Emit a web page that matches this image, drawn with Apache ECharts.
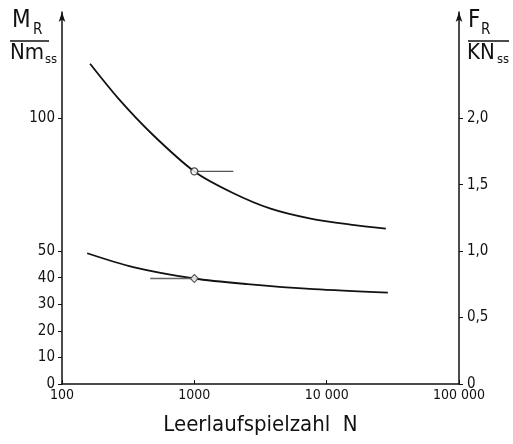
<!DOCTYPE html>
<html><head><meta charset="utf-8">
<script src="https://cdn.jsdelivr.net/npm/echarts@6/dist/echarts.min.js"></script>
<style>html,body{margin:0;padding:0;background:#fff}#c{width:513px;height:444px}</style>
</head><body><div id="c"></div>
<script>
// Upper curve: F_R (right axis, kN_ss) vs N
const nUpper = [163, 266, 481, 1000, 1940, 3770, 7570, 15100, 28000];
const fUpper = [2.41, 2.15, 1.88, 1.60, 1.44, 1.32, 1.245, 1.20, 1.17];
// Lower curve: M_R (left axis, Nm_ss) vs N
const nLower = [155, 345, 1000, 2520, 7980, 29000];
const mLower = [49.2, 44.0, 39.7, 37.6, 35.7, 34.4];
// Marked measurement points with horizontal pointer lines
const upperMark = [1000, 1.60];
const upperPointer = [[1000, 1.60], [1970, 1.60]];
const lowerMark = [1000, 39.7];
const lowerPointer = [[464, 39.7], [1000, 39.7]];
// Tick labels
const xTicks = [100, 1000, 10000, 100000];
const xTickLabels = {100: '100', 1000: '1000', 10000: '10 000', 100000: '100 000'};
const leftTicks = [0, 10, 20, 30, 40, 50, 100];
const rightTicks = [0, 0.5, 1.0, 1.5, 2.0];
const rightTickLabels = ['0', '0,5', '1,0', '1,5', '2,0'];

const FONT = "'Liberation Sans Narrow','DejaVu Sans Condensed','Roboto Condensed','Open Sans',sans-serif";
const chart = echarts.init(document.getElementById('c'), null, {renderer: 'canvas'});
const pair = (a, b) => a.map((v, i) => [v, b[i]]);

chart.setOption({
  backgroundColor: '#fff',
  animation: false,
  grid: {left: 62, right: 54, top: 12, bottom: 60},
  xAxis: {
    type: 'log', logBase: 10, min: 100, max: 100000,
    axisLine: {lineStyle: {color: '#111', width: 1.5}},
    axisTick: {inside: true, length: 4, lineStyle: {color: '#111'}},
    splitLine: {show: false}, minorTick: {show: false},
    axisLabel: {color: '#111', fontSize: 14, fontFamily: FONT, margin: 4,
      formatter: v => xTickLabels[Math.round(v)] || ''},
    name: 'Leerlaufspielzahl  N', nameLocation: 'middle', nameGap: 30,
    nameTextStyle: {color: '#111', fontSize: 22, fontFamily: FONT}
  },
  yAxis: [{
    type: 'value', min: 0, max: 140, position: 'left',
    axisLine: {show: true, symbol: ['none', 'arrow'], symbolSize: [5, 10], lineStyle: {color: '#111', width: 1.5}},
    axisTick: {show: true, length: 4, customValues: leftTicks, lineStyle: {color: '#111'}},
    axisLabel: {customValues: leftTicks, color: '#111', fontSize: 15, fontFamily: FONT, margin: 7},
    splitLine: {show: false}
  }, {
    type: 'value', min: 0, max: 2.8, position: 'right',
    axisLine: {show: true, symbol: ['none', 'arrow'], symbolSize: [5, 10], lineStyle: {color: '#111', width: 1.5}},
    axisTick: {show: true, length: 4, customValues: rightTicks, lineStyle: {color: '#111'}},
    axisLabel: {customValues: rightTicks, color: '#111', fontSize: 15, fontFamily: FONT, margin: 8,
      formatter: v => rightTickLabels[rightTicks.indexOf(Math.round(v * 10) / 10)] ?? ''},
    splitLine: {show: false}
  }],
  series: [
    {type: 'line', yAxisIndex: 1, data: pair(nUpper, fUpper), smooth: 0.3, showSymbol: false,
      lineStyle: {color: '#111', width: 1.8}, z: 2},
    {type: 'line', yAxisIndex: 0, data: pair(nLower, mLower), smooth: 0.3, showSymbol: false,
      lineStyle: {color: '#111', width: 1.8}, z: 2},
    {type: 'line', yAxisIndex: 1, data: upperPointer, showSymbol: false,
      lineStyle: {color: '#555', width: 1.3}, z: 3},
    {type: 'line', yAxisIndex: 0, data: lowerPointer, showSymbol: false,
      lineStyle: {color: '#666', width: 1.3}, z: 3},
    {type: 'scatter', yAxisIndex: 1, data: [upperMark], symbol: 'circle', symbolSize: 7,
      itemStyle: {color: '#fff', borderColor: '#222', borderWidth: 1.3}, z: 5},
    {type: 'scatter', yAxisIndex: 0, data: [lowerMark], symbol: 'diamond', symbolSize: 8,
      itemStyle: {color: '#fff', borderColor: '#333', borderWidth: 1.2}, z: 5}
  ],
  graphic: [
    {type: 'text', left: 12, top: 9, style: {text: 'M', fontSize: 24, fontFamily: FONT, fill: '#111'}},
    {type: 'text', left: 33, top: 23, style: {text: 'R', fontSize: 15, fontFamily: FONT, fill: '#111'}},
    {type: 'line', shape: {x1: 10, y1: 41, x2: 49, y2: 41}, style: {stroke: '#111', lineWidth: 1.5}},
    {type: 'text', left: 10, top: 42, style: {text: 'Nm', fontSize: 22, fontFamily: FONT, fill: '#111'}},
    {type: 'text', left: 45, top: 53, style: {text: 'ss', fontSize: 13, fontFamily: FONT, fill: '#111'}},
    {type: 'text', left: 468, top: 9, style: {text: 'F', fontSize: 24, fontFamily: FONT, fill: '#111'}},
    {type: 'text', left: 481, top: 23, style: {text: 'R', fontSize: 15, fontFamily: FONT, fill: '#111'}},
    {type: 'line', shape: {x1: 468, y1: 41, x2: 509, y2: 41}, style: {stroke: '#111', lineWidth: 1.5}},
    {type: 'text', left: 467, top: 42, style: {text: 'KN', fontSize: 22, fontFamily: FONT, fill: '#111'}},
    {type: 'text', left: 497, top: 53, style: {text: 'ss', fontSize: 13, fontFamily: FONT, fill: '#111'}}
  ]
});
</script></body></html>
